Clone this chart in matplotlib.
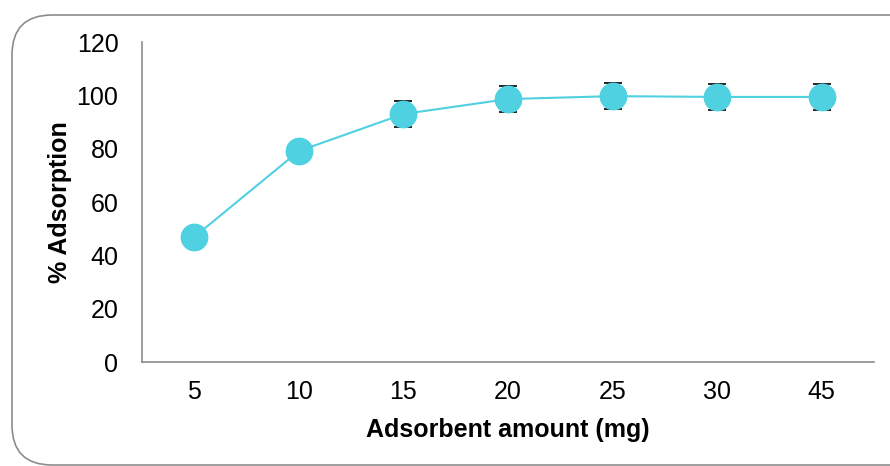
import numpy as np
import matplotlib.pyplot as plt
from matplotlib.patches import FancyBboxPatch

plt.rcParams['font.family'] = ['Liberation Sans', 'DejaVu Sans']

amounts = ['5', '10', '15', '20', '25', '30', '45']
adsorption = [46.9, 79.1, 93.0, 98.6, 99.7, 99.4, 99.4]
errors = [2.0, 3.0, 4.7, 5.0, 5.0, 5.0, 5.0]

fig = plt.figure(figsize=(8.9, 4.66), dpi=100)
ax = fig.add_axes([142 / 890, 1 - 362 / 466, (874 - 142) / 890, 320 / 466])

# rounded frame around the whole chart
frame = FancyBboxPatch((12 / 890, 1 / 466), 1.2, 450 / 466,
                       boxstyle="round,pad=0,rounding_size=0.045",
                       transform=fig.transFigure, fill=False,
                       edgecolor='#8c8c8c', linewidth=1.2, mutation_aspect=890 / 466)
fig.patches.append(frame)

x = np.arange(len(amounts))
color = '#4fd1e1'
ax.errorbar(x, adsorption, yerr=errors, fmt='none', ecolor='black',
            elinewidth=1, capsize=6.5, capthick=1.2, zorder=2)
ax.plot(x, adsorption, '-', color=color, linewidth=1.5, marker='o',
        markersize=19, markerfacecolor=color, markeredgecolor=color, zorder=3)

ax.set_xlim(-0.5, len(amounts) - 0.5)
ax.set_ylim(0, 120)
ax.set_yticks(range(0, 121, 20))
ax.set_xticks(x)
ax.set_xticklabels(amounts)
ax.tick_params(length=0, labelsize=18)
ax.tick_params(axis='y', pad=17)
ax.tick_params(axis='x', pad=13)

for s in ['top', 'right']:
    ax.spines[s].set_visible(False)
for s in ['left', 'bottom']:
    ax.spines[s].set_color('#8c8c8c')
    ax.spines[s].set_linewidth(1.2)

ax.set_xlabel('Adsorbent amount (mg)', fontsize=18, fontweight='bold', va='center')
ax.set_ylabel('% Adsorption', fontsize=18, fontweight='bold', va='center')
ax.xaxis.set_label_coords(0.5, (362 - 430) / 320)
ax.yaxis.set_label_coords((60 - 142) / 732, 0.5)

fig.savefig('out.png', dpi=100)
